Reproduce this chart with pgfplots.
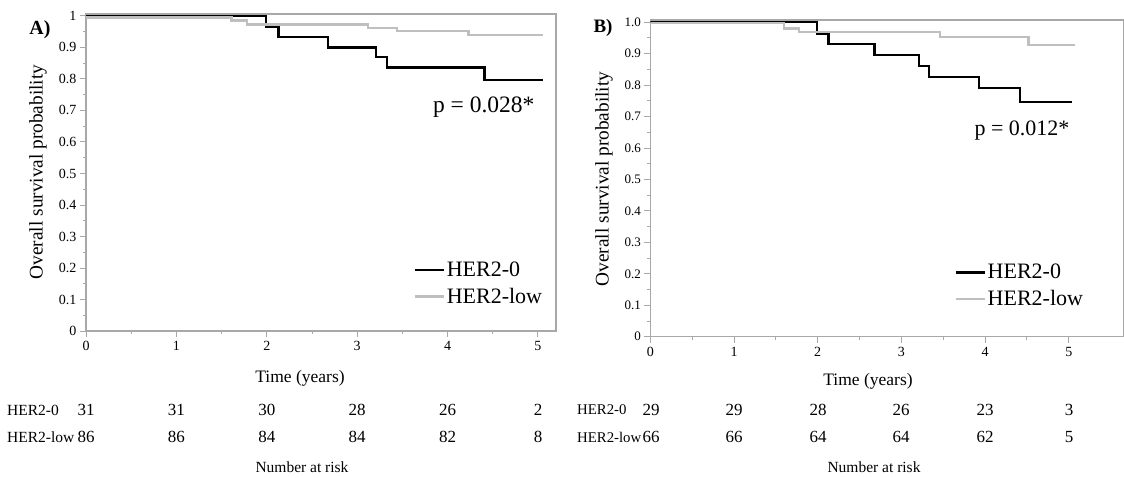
\documentclass[border=0pt]{standalone}
\usepackage{fontspec}
\setmainfont{Liberation Serif}
\usepackage{pgfplots}
\pgfplotsset{compat=1.18}
\definecolor{axgray}{gray}{0.66}
\definecolor{lowgray}{gray}{0.75}
\pgfplotsset{
  kmaxis/.style={
    scale only axis,
    axis line style={axgray, line width=1.1bp},
    tick style={axgray, line width=0.9bp},
    tick align=outside,
    xtick pos=bottom, ytick pos=left,
    major tick length=6bp, minor tick length=3bp,
    xmin=0, ymin=0,
    xtick={0,1,2,3,4,5},
    minor xtick={0.5,1.5,2.5,3.5,4.5},
    ytick={0,0.1,0.2,0.3,0.4,0.5,0.6,0.7,0.8,0.9,1},
    minor ytick={0.05,0.15,0.25,0.35,0.45,0.55,0.65,0.75,0.85,0.95},
    /pgf/number format/assume math mode=true,
    xticklabel style={font=\fontsize{14bp}{16bp}\selectfont, yshift=-1bp},
    legend cell align=left,
    legend style={draw=none, fill=none, font=\fontsize{22bp}{24bp}\selectfont, row sep=6bp, inner sep=0pt},
    legend image code/.code={\draw[#1] (0bp,0bp) -- (29bp,0bp);},
  }
}
\begin{document}
\begin{tikzpicture}
\useasboundingbox (0,0) rectangle (1124bp,-478bp);
% Panel A
\begin{axis}[kmaxis, anchor=south west, at={(86bp,-331bp)},
  width=470bp, height=317bp, xmax=5.2, ymax=1.006,
  yticklabels={0,0.1,0.2,0.3,0.4,0.5,0.6,0.7,0.8,0.9,1},
  yticklabel style={font=\fontsize{14bp}{16bp}\selectfont},
  legend style={at={(axis cs:3.62,0.226)}, anchor=north west}]
\addplot[const plot, black, line width=2.4bp] coordinates {
 (0,1) (1.99,0.965) (2.13,0.933) (2.68,0.900) (3.21,0.869) (3.33,0.836) (4.41,0.797) (5.06,0.797)};
\addlegendentry{HER2-0}
\addplot[const plot, lowgray, line width=2.4bp] coordinates {
 (0,0.995) (1.61,0.985) (1.78,0.973) (3.12,0.962) (3.44,0.952) (4.23,0.940) (5.06,0.940)};
\addlegendentry{HER2-low}
\node[anchor=east, font=\fontsize{23.5bp}{26bp}\selectfont] at (axis cs:5.0,0.711) {p = 0.028*};
\end{axis}
% Panel B
\begin{axis}[kmaxis, anchor=south west, at={(650.3bp,-336.7bp)},
  width=473.7bp, height=316.7bp, xmax=5.66, ymax=1.007,
  yticklabels={0,0.1,0.2,0.3,0.4,0.5,0.6,0.7,0.8,0.9,1.0},
  yticklabel style={font=\fontsize{13bp}{15bp}\selectfont},
  legend style={at={(axis cs:3.63,0.237)}, anchor=north west}]
\addplot[const plot, black, line width=2.4bp] coordinates {
 (0,1) (1.99,0.962) (2.13,0.930) (2.68,0.895) (3.21,0.860) (3.33,0.826) (3.93,0.790) (4.42,0.746) (5.04,0.746)};
\addlegendentry{HER2-0}
\addplot[const plot, lowgray, line width=2.4bp] coordinates {
 (0,0.997) (1.60,0.980) (1.78,0.968) (3.46,0.953) (4.52,0.928) (5.07,0.928)};
\addlegendentry{HER2-low}
\node[anchor=east, font=\fontsize{22bp}{24bp}\selectfont] at (axis cs:5.05,0.657) {p = 0.012*};
\end{axis}
% Panel titles and labels
\node[font=\bfseries\fontsize{20bp}{22bp}\selectfont] at (40bp,-30bp) {A)};
\node[font=\bfseries\fontsize{19bp}{21bp}\selectfont] at (603bp,-28bp) {B)};
\node[rotate=90, font=\fontsize{19.3bp}{21bp}\selectfont] at (38bp,-172bp) {Overall survival probability};
\node[rotate=90, font=\fontsize{19.3bp}{21bp}\selectfont] at (604bp,-179bp) {Overall survival probability};
\node[font=\fontsize{17.5bp}{19bp}\selectfont] at (300bp,-378bp) {Time (years)};
\node[font=\fontsize{17.5bp}{19bp}\selectfont] at (868bp,-381bp) {Time (years)};
% Number at risk A
\foreach \x/\a/\b in {86/31/86, 176.4/31/86, 266.8/30/84, 357.2/28/84, 447.6/26/82, 538/2/8} {
  \node[font=\fontsize{17bp}{19bp}\selectfont] at (\x bp,-410bp) {\a};
  \node[font=\fontsize{17bp}{19bp}\selectfont] at (\x bp,-437bp) {\b};
}
\node[anchor=west, inner sep=0pt, font=\fontsize{15.5bp}{17bp}\selectfont] at (7bp,-410bp) {HER2-0};
\node[anchor=west, inner sep=0pt, font=\fontsize{15.5bp}{17bp}\selectfont] at (7bp,-437bp) {HER2-low};
\node[font=\fontsize{15.5bp}{18bp}\selectfont] at (302bp,-467bp) {Number at risk};
% Number at risk B
\foreach \x/\a/\b in {651/29/66, 734/29/66, 818/28/64, 901/26/64, 985/23/62, 1069/3/5} {
  \node[font=\fontsize{17bp}{19bp}\selectfont] at (\x bp,-410bp) {\a};
  \node[font=\fontsize{17bp}{19bp}\selectfont] at (\x bp,-437bp) {\b};
}
\node[anchor=west, inner sep=0pt, font=\fontsize{14.8bp}{17bp}\selectfont] at (577bp,-410bp) {HER2-0};
\node[anchor=west, inner sep=0pt, font=\fontsize{14.8bp}{17bp}\selectfont] at (577bp,-437bp) {HER2-low};
\node[font=\fontsize{15.5bp}{18bp}\selectfont] at (874bp,-467bp) {Number at risk};
\end{tikzpicture}
\end{document}
